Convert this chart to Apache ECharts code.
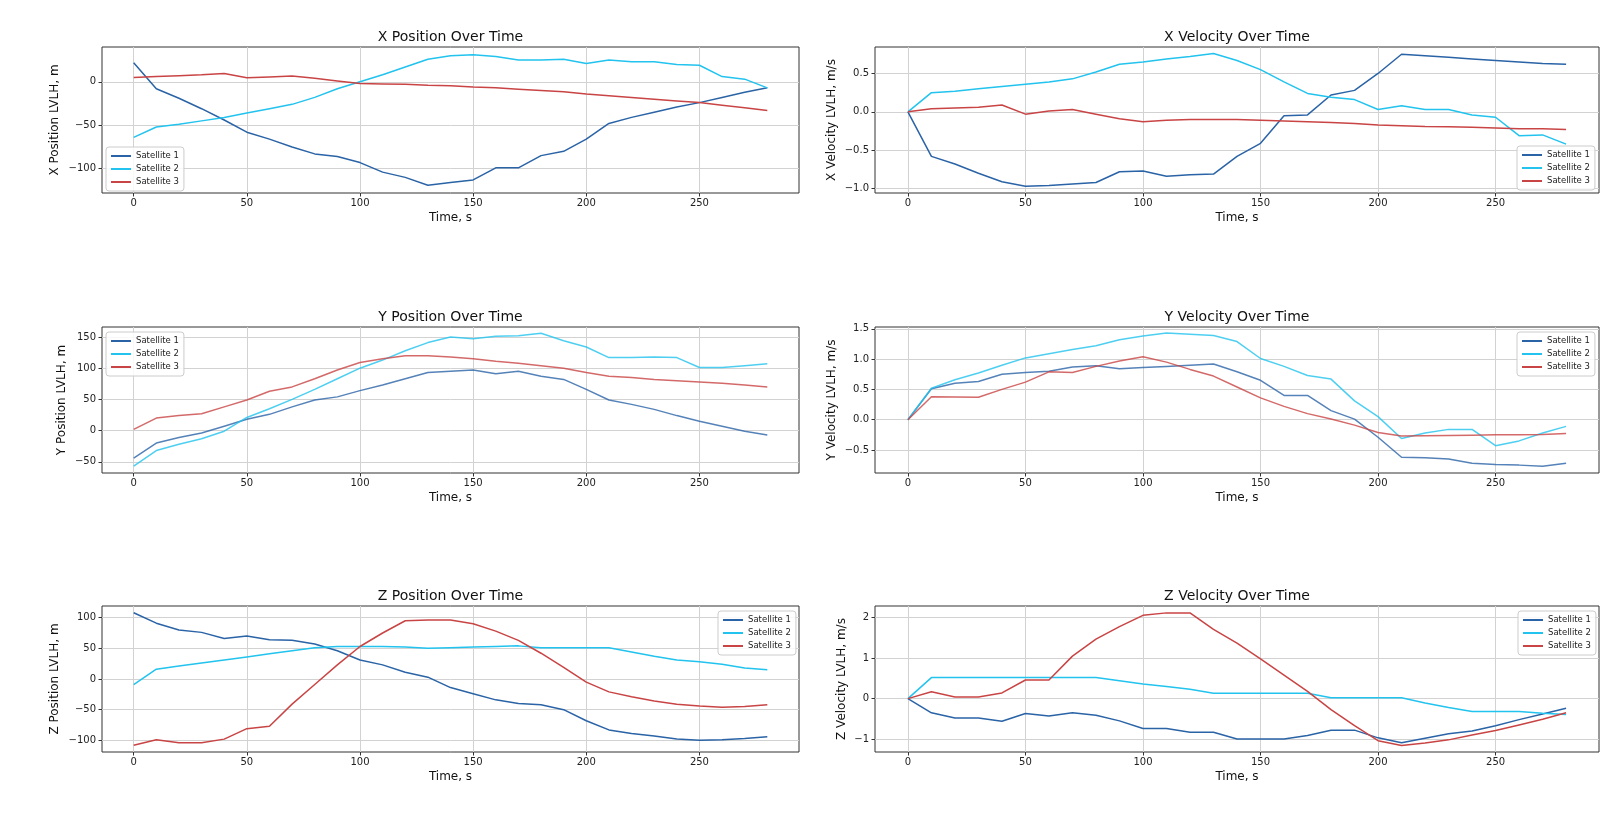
<!DOCTYPE html>
<html>
<head>
<meta charset="utf-8">
<script src="https://cdn.jsdelivr.net/npm/echarts@6/dist/echarts.min.js"></script>
<style>
html, body { margin: 0; padding: 0; background: #fff; }
#chart { width: 1600px; height: 840px; }
</style>
</head>
<body>
<div id="chart"></div>
<script>
const time = [0, 10, 20, 30, 40, 50, 60, 70, 80, 90, 100, 110, 120, 130, 140, 150, 160, 170, 180, 190, 200, 210, 220, 230, 240, 250, 260, 270, 280];
const satNames = ['Satellite 1', 'Satellite 2', 'Satellite 3'];

const xPos1 = [22, -8, -19, -31, -44, -58, -66, -75, -83, -86, -93, -104, -110, -119, -116, -113, -99, -99, -85, -80, -66, -48, -41, -35, -29, -24, -18, -12, -7];
const xPos2 = [-64, -52, -49, -45, -41, -36, -31, -26, -18, -8, 0, 8, 17, 26, 30, 31, 29, 25, 25, 26, 21, 25, 23, 23, 20, 19, 6, 3, -7];
const xPos3 = [5, 6, 7, 8, 9.5, 4.5, 5.5, 6.5, 4, 1, -2, -2.5, -3, -4, -4.5, -6, -7, -8.5, -10, -11.5, -14, -16, -18, -20, -22, -24, -27, -30, -33];

const xVel1 = [0, -0.58, -0.68, -0.80, -0.91, -0.97, -0.96, -0.94, -0.92, -0.78, -0.77, -0.84, -0.82, -0.81, -0.58, -0.41, -0.05, -0.04, 0.22, 0.28, 0.50, 0.75, 0.73, 0.71, 0.69, 0.67, 0.65, 0.63, 0.62];
const xVel2 = [0, 0.25, 0.27, 0.30, 0.33, 0.36, 0.39, 0.43, 0.52, 0.62, 0.65, 0.69, 0.72, 0.76, 0.67, 0.55, 0.39, 0.24, 0.19, 0.16, 0.03, 0.08, 0.03, 0.03, -0.04, -0.07, -0.31, -0.30, -0.42];
const xVel3 = [0, 0.04, 0.05, 0.06, 0.09, -0.03, 0.01, 0.03, -0.03, -0.09, -0.13, -0.11, -0.10, -0.10, -0.10, -0.11, -0.12, -0.13, -0.14, -0.15, -0.17, -0.18, -0.19, -0.195, -0.20, -0.21, -0.22, -0.22, -0.23];

const yPos1 = [-44, -20, -11, -4, 7, 18, 26, 38, 49, 54, 64, 73, 83, 93, 95, 97, 91, 95, 87, 82, 66, 49, 42, 34, 24, 15, 7, -1, -7];
const yPos2 = [-57, -32, -22, -13, -1, 21, 35, 50, 66, 83, 100, 113, 128, 141, 150, 147, 151, 152, 156, 144, 134, 117, 117, 118, 117, 101, 101, 104, 107];
const yPos3 = [2, 20, 24, 27, 38, 49, 63, 70, 83, 97, 109, 115, 120, 120, 118, 115, 111, 108, 104, 100, 93, 87, 85, 82, 80, 78, 76, 73, 70];

const yVel1 = [0, 0.51, 0.60, 0.63, 0.75, 0.78, 0.80, 0.87, 0.89, 0.84, 0.86, 0.88, 0.90, 0.92, 0.79, 0.65, 0.40, 0.40, 0.15, 0.01, -0.29, -0.62, -0.63, -0.65, -0.72, -0.74, -0.75, -0.77, -0.72];
const yVel2 = [0, 0.52, 0.66, 0.77, 0.90, 1.02, 1.09, 1.16, 1.22, 1.32, 1.38, 1.43, 1.41, 1.39, 1.29, 1.01, 0.88, 0.73, 0.67, 0.31, 0.05, -0.31, -0.22, -0.16, -0.16, -0.43, -0.35, -0.22, -0.11];
const yVel3 = [0, 0.38, 0.375, 0.37, 0.50, 0.62, 0.79, 0.78, 0.88, 0.97, 1.04, 0.95, 0.83, 0.72, 0.54, 0.36, 0.22, 0.10, 0.01, -0.09, -0.21, -0.27, -0.265, -0.26, -0.255, -0.25, -0.25, -0.245, -0.23];

const zPos1 = [108, 91, 80, 76, 66, 70, 64, 63, 57, 46, 31, 23, 11, 3, -14, -24, -34, -40, -42, -50, -68, -83, -89, -93, -98, -100, -99, -97, -94];
const zPos2 = [-9, 16, 21, 26, 31, 36, 41, 46, 51, 53, 53, 53, 52, 50, 51, 52, 53, 54, 51, 51, 51, 51, 44, 37, 31, 28, 24, 18, 15];
const zPos3 = [-108, -99, -104, -104, -98, -81, -77, -41, -9, 23, 53, 75, 95, 96, 96, 90, 78, 63, 42, 19, -5, -21, -29, -36, -41, -44, -46, -45, -42];

const zVel1 = [0, -0.35, -0.48, -0.48, -0.56, -0.37, -0.43, -0.35, -0.41, -0.55, -0.74, -0.74, -0.83, -0.83, -1.0, -1.0, -1.0, -0.91, -0.78, -0.78, -0.97, -1.09, -0.98, -0.87, -0.80, -0.67, -0.52, -0.38, -0.24];
const zVel2 = [0, 0.52, 0.52, 0.52, 0.52, 0.52, 0.52, 0.52, 0.52, 0.44, 0.36, 0.30, 0.23, 0.13, 0.13, 0.13, 0.13, 0.13, 0.02, 0.02, 0.02, 0.02, -0.11, -0.22, -0.32, -0.32, -0.32, -0.36, -0.39];
const zVel3 = [0, 0.17, 0.04, 0.04, 0.14, 0.46, 0.46, 1.05, 1.47, 1.78, 2.06, 2.12, 2.12, 1.71, 1.37, 0.98, 0.58, 0.18, -0.27, -0.67, -1.04, -1.16, -1.10, -1.02, -0.90, -0.79, -0.65, -0.51, -0.35];

// tick labels
const timeTicks = [0, 50, 100, 150, 200, 250];
const xPosTicks = [-100, -50, 0];
const xVelTicks = [-1.0, -0.5, 0.0, 0.5];
const yPosTicks = [-50, 0, 50, 100, 150];
const yVelTicks = [-0.5, 0.0, 0.5, 1.0, 1.5];
const zPosTicks = [-100, -50, 0, 50, 100];
const zVelTicks = [-1, 0, 1, 2];

const colors = ['#2a63a6', '#22c3ee', '#c94444'];

const panels = [
    { title: 'X Position Over Time', yName: 'X Position LVLH, m', lines: [xPos1, xPos2, xPos3], min: -128, max: 40, ticks: xPosTicks, dec: 0,
      left: 102, width: 697, top: 47, nameGap: 41, legend: { left: 106, top: 147 }, alpha: 1 },
    { title: 'X Velocity Over Time', yName: 'X Velocity LVLH, m/s', lines: [xVel1, xVel2, xVel3], min: -1.057, max: 0.845, ticks: xVelTicks, dec: 1,
      left: 875, width: 724, top: 47, nameGap: 37, legend: { left: 1517, top: 146 }, alpha: 1 },
    { title: 'Y Position Over Time', yName: 'Y Position LVLH, m', lines: [yPos1, yPos2, yPos3], min: -68, max: 166, ticks: yPosTicks, dec: 0,
      left: 102, width: 697, top: 327, nameGap: 34, legend: { left: 106, top: 332 }, alpha: 0.8 },
    { title: 'Y Velocity Over Time', yName: 'Y Velocity LVLH, m/s', lines: [yVel1, yVel2, yVel3], min: -0.88, max: 1.53, ticks: yVelTicks, dec: 1,
      left: 875, width: 724, top: 327, nameGap: 37, legend: { left: 1517, top: 332 }, alpha: 0.8 },
    { title: 'Z Position Over Time', yName: 'Z Position LVLH, m', lines: [zPos1, zPos2, zPos3], min: -119, max: 119, ticks: zPosTicks, dec: 0,
      left: 102, width: 697, top: 606, nameGap: 41, legend: { left: 718, top: 611 }, alpha: 1 },
    { title: 'Z Velocity Over Time', yName: 'Z Velocity LVLH, m/s', lines: [zVel1, zVel2, zVel3], min: -1.32, max: 2.29, ticks: zVelTicks, dec: 0,
      left: 875, width: 724, top: 606, nameGap: 27, legend: { left: 1518, top: 611 }, alpha: 1 }
];

const plotHeight = 146;
const minus = s => s.replace('-', '\u2212');

const option = {
    animation: false,
    backgroundColor: '#fff',
    textStyle: { fontFamily: 'DejaVu Sans' },
    title: [],
    grid: [],
    xAxis: [],
    yAxis: [],
    legend: [],
    series: []
};

panels.forEach((p, i) => {
    option.title.push({
        text: p.title,
        left: p.left + p.width / 2,
        top: p.top - 17,
        textAlign: 'center',
        padding: 0,
        textStyle: { fontSize: 14, fontWeight: 'normal', color: '#111', fontFamily: 'DejaVu Sans' }
    });
    option.grid.push({
        left: p.left, top: p.top, width: p.width, height: plotHeight,
        show: true, borderColor: '#333', borderWidth: 1, backgroundColor: 'transparent'
    });
    option.xAxis.push({
        type: 'value', gridIndex: i, min: -14, max: 294,
        name: 'Time, s', nameLocation: 'middle', nameGap: 19,
        nameTextStyle: { fontSize: 12, color: '#111' },
        axisLine: { show: false, onZero: false },
        axisTick: { show: true, length: 3.5, customValues: timeTicks, lineStyle: { color: '#333' } },
        axisLabel: { customValues: timeTicks, fontSize: 10, color: '#222', margin: 5, formatter: v => minus(String(v)) },
        splitLine: { show: true, lineStyle: { color: '#d2d2d2', width: 1 } }
    });
    option.yAxis.push({
        type: 'value', gridIndex: i, min: p.min, max: p.max,
        name: p.yName, nameLocation: 'middle', nameGap: p.nameGap,
        nameTextStyle: { fontSize: 12, color: '#111' },
        axisLine: { show: false, onZero: false },
        axisTick: { show: true, length: 3.5, customValues: p.ticks, lineStyle: { color: '#333' } },
        axisLabel: { customValues: p.ticks, fontSize: 10, color: '#222', margin: 6,
                     formatter: v => minus(v.toFixed(p.dec)) },
        splitLine: { show: true, lineStyle: { color: '#d2d2d2', width: 1 } }
    });
    option.legend.push({
        orient: 'vertical',
        left: p.legend.left, top: p.legend.top,
        data: satNames,
        icon: 'rect',
        itemWidth: 20, itemHeight: 2, itemGap: 3,
        padding: [4, 5, 4, 5],
        borderColor: '#cccccc', borderWidth: 1, borderRadius: 3,
        backgroundColor: 'rgba(255,255,255,0.85)',
        selectedMode: false,
        textStyle: { fontSize: 8.5, color: '#222', lineHeight: 10 }
    });
    p.lines.forEach((vals, k) => {
        option.series.push({
            name: satNames[k],
            type: 'line',
            xAxisIndex: i, yAxisIndex: i,
            symbol: 'none', showSymbol: false,
            color: colors[k],
            lineStyle: { color: colors[k], width: 1.5, opacity: p.alpha },
            data: time.map((t, j) => [t, vals[j]])
        });
    });
});

const chart = echarts.init(document.getElementById('chart'), null, { renderer: 'canvas' });
chart.setOption(option);
</script>
</body>
</html>
